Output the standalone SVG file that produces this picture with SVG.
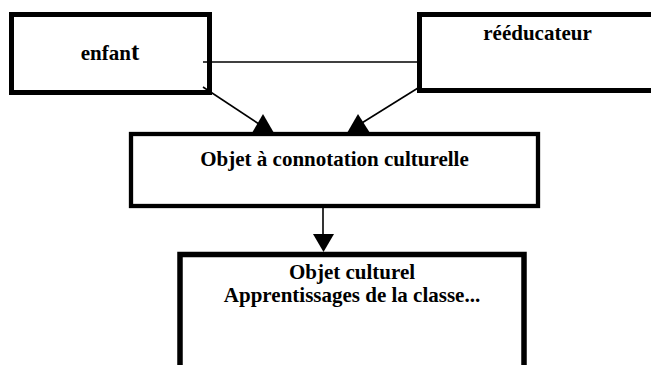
<svg xmlns="http://www.w3.org/2000/svg" width="651" height="365" viewBox="0 0 651 365">
<style>
.box{fill:#fff;stroke:#000}
.t{font-family:"Liberation Serif","Times New Roman",serif;font-weight:bold;font-size:21px;fill:#000;text-anchor:middle}
.ln{stroke:#000;stroke-width:1.6;fill:none}
.ah{fill:#000}
</style>
<rect width="651" height="365" fill="#fff"/>
<g id="enfant">
<rect class="box" x="11.5" y="14.5" width="198" height="78" stroke-width="5"/>
<text class="t" x="110" y="60">enfan<tspan font-size="25">t</tspan></text>
</g>
<g id="reeducateur">
<rect class="box" x="419.5" y="14.5" width="250" height="76" stroke-width="5"/>
<text class="t" x="537.5" y="40">rééducateur</text>
</g>
<g id="objet-connotation">
<rect class="box" x="131" y="134" width="407" height="72" stroke-width="4.3"/>
<text class="t" x="334.5" y="166">Objet à connotation culturelle</text>
</g>
<g id="objet-culturel">
<rect class="box" x="180" y="254.5" width="344" height="200" stroke-width="5.5"/>
<text class="t" x="352" y="279">Objet culturel</text>
<text class="t" x="352" y="302">Apprentissages de la classe...</text>
</g>
<g id="connectors">
<line class="ln" x1="203" y1="62" x2="418" y2="62"/>
<line class="ln" x1="203" y1="87" x2="262" y2="126"/>
<line class="ln" x1="418" y1="88" x2="357" y2="126"/>
<line class="ln" x1="323" y1="208" x2="323" y2="236"/>
<polygon class="ah" points="263,114 252,133 274,133"/>
<polygon class="ah" points="358,114 347,133 370,133"/>
<polygon class="ah" points="313,234 334,234 323.5,252"/>
</g>
</svg>
